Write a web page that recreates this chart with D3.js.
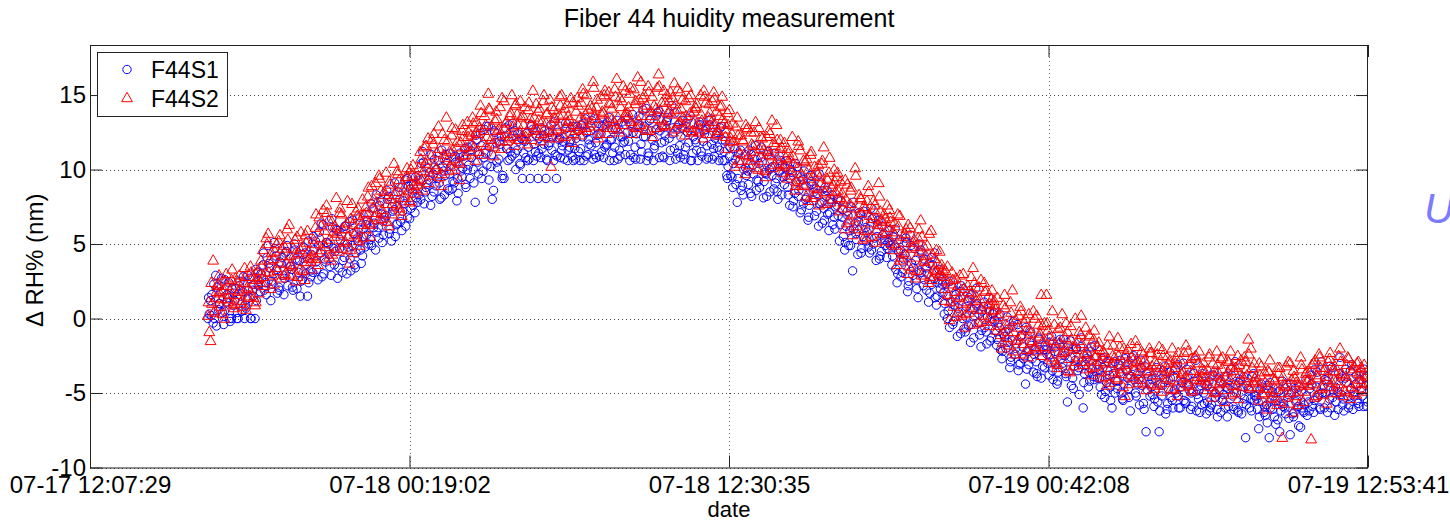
<!DOCTYPE html>
<html>
<head>
<meta charset="utf-8">
<script src="https://cdn.jsdelivr.net/npm/d3@7"></script>
<style>
  html, body { margin: 0; padding: 0; background: #fff; }
  svg { display: block; }
  text { font-family: "Liberation Sans", Arial, Helvetica, sans-serif; fill: #000; }
</style>
</head>
<body>
<svg id="chart" width="1450" height="522"></svg>
<script>
// ---------------- DATA ----------------
const title = "Fiber 44 huidity measurement";
const xLabel = "date";
const yLabel = "\u0394 RH% (nm)";
const seriesNames = ["F44S1", "F44S2"];
const xTickLabels = ["07-17 12:07:29", "07-18 00:19:02", "07-18 12:30:35", "07-19 00:42:08", "07-19 12:53:41"];
const yTickValues = [-10, -5, 0, 5, 10, 15];
// three interleaved reading passes, hours after 07-17 12:07:29; one sample every 0.1 h in each pass
const sampleStartHoursA = 4.5;
const sampleStartHoursB = 4.55;
const sampleStartHoursC = 4.525;
const sampleStepHours = 0.1;

const s1ValuesA = [
  0.0, 1.2, -0.3, 2.9, 0.6, 1.8, -0.4, 1.1, 2.4, 0.0, 1.7, 0.0, 2.2, 0.5, 0.0, 1.3, 2.7, 1.9, 0.0, 3.1,
  1.8, 3.6, 2.4, 4.9, 1.2, 3.0, 4.2, 2.1, 3.7, 1.6, 4.5, 2.8, 3.3, 5.0, 2.0, 3.9, 2.6, 4.4, 1.5, 3.2,
  3.1, 5.2, 2.6, 4.4, 6.3, 3.8, 5.0, 2.9, 4.7, 6.0, 3.4, 5.6, 4.1, 3.0, 6.5, 4.9, 3.6, 5.4, 6.8, 4.2,
  4.8, 6.6, 5.3, 7.4, 4.6, 6.1, 7.9, 5.6, 6.9, 8.2, 5.2, 7.3, 6.3, 8.8, 5.9, 7.7, 9.4, 6.7, 8.4, 7.1,
  7.8, 9.3, 11.2, 8.5, 10.1, 7.6, 9.7, 8.9, 10.6, 8.1, 9.9, 11.0, 8.6, 10.3, 9.1, 7.9, 10.8, 9.5, 11.4, 10.0,
  9.4, 11.6, 7.8, 10.5, 12.4, 9.9, 11.1, 12.9, 10.2, 8.6, 11.8, 10.7, 12.2, 9.4, 11.4, 13.0, 10.9, 12.6, 11.3, 10.4,
  9.4, 11.9, 10.6, 9.4, 12.7, 11.2, 9.4, 10.8, 12.3, 9.4, 11.6, 13.0, 10.6, 9.4, 12.0, 11.3, 10.7, 12.8, 11.5, 10.9,
  11.4, 12.9, 10.6, 12.2, 13.4, 11.0, 12.6, 10.7, 11.8, 13.1, 12.4, 10.8, 11.6, 13.5, 12.0, 10.6, 12.8, 11.3, 13.2, 11.9,
  12.5, 10.6, 13.7, 11.5, 12.9, 10.7, 14.0, 12.2, 11.1, 13.4, 10.6, 12.7, 13.9, 11.8, 10.8, 13.2, 12.1, 14.3, 11.4, 12.8,
  11.6, 13.3, 10.7, 12.5, 13.6, 11.1, 12.0, 10.6, 13.0, 11.9, 12.7, 10.8, 13.4, 11.4, 12.3, 10.6, 12.9, 11.2, 9.6, 10.9,
  9.5, 11.4, 7.8, 10.6, 8.9, 11.0, 9.9, 8.4, 10.3, 11.6, 9.2, 10.8, 8.1, 9.7, 11.2, 10.1, 8.7, 9.4, 10.9, 8.3,
  9.0, 10.6, 7.6, 9.8, 8.4, 10.2, 7.1, 9.3, 8.0, 6.6, 9.6, 7.9, 8.7, 6.2, 9.1, 7.4, 8.2, 5.9, 7.8, 6.8,
  7.6, 5.2, 6.8, 4.6, 7.2, 5.9, 3.2, 6.4, 4.3, 7.0, 5.5, 6.1, 4.8, 7.4, 5.0, 3.9, 6.6, 4.5, 5.7, 4.1,
  5.9, 3.6, 4.8, 2.4, 5.3, 3.1, 4.3, 1.8, 5.6, 2.9, 3.9, 1.4, 4.6, 2.2, 3.4, 1.1, 4.1, 2.7, 0.9, 3.3,
  2.6, 0.3, 1.5, -0.6, 2.1, 0.9, -1.2, 1.8, 0.0, -0.9, 1.2, -1.6, 0.6, 2.0, -0.3, -1.9, 0.8, -0.9, 1.4, -1.3,
  0.4, -1.8, -0.6, -2.7, -1.2, 0.1, -3.3, -1.5, -2.4, -0.4, -3.0, -1.9, -4.4, -2.2, -0.9, -3.6, -2.9, -1.3, -4.0, -2.1,
  -2.1, -3.8, -1.2, -2.9, -4.4, -1.7, -3.3, -2.5, -5.6, -1.5, -4.0, -2.8, -3.5, -1.9, -6.0, -3.1, -4.6, -2.2, -3.9, -2.6,
  -3.4, -5.1, -2.6, -4.3, -3.8, -6.0, -2.9, -4.7, -3.6, -5.4, -2.7, -4.0, -6.2, -3.2, -5.0, -4.4, -2.8, -5.7, -7.6, -3.9,
  -4.6, -5.9, -3.3, -7.6, -5.2, -4.1, -6.1, -3.6, -5.5, -4.8, -3.1, -6.0, -4.3, -5.7, -3.8, -6.1, -4.9, -2.8, -5.4, -4.5,
  -5.0, -6.4, -4.2, -5.8, -3.6, -6.1, -4.8, -5.5, -3.9, -6.6, -4.5, -5.2, -2.9, -6.2, -4.1, -5.7, -8.0, -4.7, -5.4, -3.7,
  -5.2, -7.4, -4.4, -6.3, -5.8, -8.0, -4.9, -6.6, -5.5, -7.6, -4.2, -6.0, -5.3, -7.8, -6.4, -4.7, -5.9, -7.3, -6.2, -4.1,
  -5.6, -3.8, -6.3, -4.6, -5.1, -2.9, -6.0, -4.2, -5.4, -3.3, -6.5, -4.9, -2.6, -5.8, -4.0, -5.2, -3.5, -6.1, -4.4, -5.7,
  -3.6, -5.9, -4.5
];

const s1ValuesB = [
  0.3, 1.6, 0.0, 2.1, 1.0, 0.4, 2.6, 1.4, -0.2, 0.9, 2.0, 0.0, 1.5, 2.8, 0.7, 1.9, 0.0, 2.3, 1.2, 2.5,
  2.7, 1.9, 4.1, 3.4, 2.3, 4.7, 1.7, 3.8, 2.9, 4.4, 2.2, 3.5, 1.9, 4.0, 3.1, 2.5, 4.8, 3.6, 2.4, 4.3,
  4.6, 3.3, 5.8, 2.8, 4.0, 5.1, 3.5, 6.1, 4.5, 2.7, 5.3, 3.9, 6.2, 4.8, 3.2, 5.7, 4.4, 6.0, 3.7, 5.5,
  5.6, 7.0, 4.9, 6.4, 5.8, 7.6, 5.1, 6.8, 8.0, 6.0, 7.2, 5.5, 8.5, 6.5, 7.9, 6.2, 8.9, 7.4, 9.0, 8.1,
  8.3, 10.4, 7.7, 9.0, 9.8, 8.2, 10.7, 9.4, 8.0, 10.2, 9.6, 8.7, 11.1, 9.2, 10.5, 8.4, 9.9, 10.9, 8.8, 10.3,
  10.8, 9.1, 12.0, 11.0, 9.4, 12.7, 10.3, 11.5, 8.0, 12.5, 10.1, 11.7, 9.6, 12.8, 10.6, 11.2, 12.3, 10.0, 11.9, 12.1,
  11.1, 12.4, 10.7, 12.9, 11.7, 10.9, 12.1, 11.4, 12.6, 10.6, 11.8, 12.2, 11.0, 12.5, 10.8, 11.9, 13.1, 11.3, 12.0, 10.6,
  12.1, 11.2, 13.0, 10.6, 12.5, 11.7, 13.3, 11.0, 12.3, 10.9, 12.9, 11.5, 13.2, 12.0, 11.1, 12.7, 10.7, 12.2, 11.8, 13.0,
  11.9, 13.1, 10.8, 12.4, 13.6, 11.2, 12.9, 10.6, 13.3, 12.0, 11.6, 13.8, 12.6, 10.9, 12.3, 13.5, 11.3, 12.8, 10.7, 13.0,
  12.2, 11.0, 13.1, 11.8, 10.6, 12.6, 11.3, 13.2, 10.9, 12.4, 11.6, 13.0, 10.7, 12.1, 11.5, 12.8, 10.6, 11.9, 10.2, 9.6,
  10.4, 9.0, 11.1, 8.6, 10.0, 9.6, 11.3, 8.2, 10.7, 9.3, 8.8, 10.5, 9.8, 11.0, 8.5, 10.2, 9.1, 8.0, 10.6, 9.5,
  9.6, 8.3, 10.0, 7.9, 9.2, 8.6, 7.3, 9.9, 8.1, 7.6, 9.0, 6.9, 8.4, 7.7, 6.4, 8.8, 7.0, 8.0, 6.3, 7.5,
  6.9, 7.9, 5.5, 6.2, 4.9, 7.5, 6.0, 5.3, 7.1, 4.7, 6.5, 5.8, 4.4, 6.7, 5.4, 6.3, 4.2, 5.6, 4.9, 5.1,
  4.9, 5.5, 3.3, 4.5, 2.8, 4.0, 5.1, 2.5, 3.7, 4.7, 2.0, 3.2, 4.4, 2.6, 3.0, 1.7, 3.6, 1.4, 2.4, 2.0,
  1.7, 2.3, 0.5, 1.1, -0.2, 1.6, 0.4, 2.2, -0.7, 0.8, 1.4, -0.4, 0.2, 1.0, -1.1, 0.5, -0.6, 0.1, -1.5, 0.3,
  -0.8, -0.3, -2.1, -1.0, -2.0, -0.7, -2.6, -0.2, -1.7, -3.1, -1.1, -2.5, -3.4, -1.6, -2.7, -2.1, -3.9, -2.1, -3.2, -1.8,
  -3.0, -2.4, -4.1, -1.9, -3.6, -2.7, -1.4, -3.9, -2.2, -4.5, -3.2, -2.0, -5.1, -2.9, -3.7, -2.4, -4.2, -3.4, -1.8, -4.0,
  -4.6, -3.3, -4.9, -2.9, -5.5, -3.7, -4.2, -3.1, -5.0, -4.4, -3.5, -5.3, -2.6, -4.1, -3.8, -5.8, -4.5, -3.2, -4.8, -5.2,
  -5.1, -4.0, -5.6, -4.4, -3.5, -6.4, -4.7, -5.3, -3.9, -5.0, -6.0, -4.3, -5.5, -3.4, -4.8, -5.9, -4.2, -5.1, -6.3, -3.7,
  -4.4, -5.6, -6.0, -4.9, -5.3, -4.0, -6.3, -5.1, -4.6, -5.9, -3.8, -6.1, -5.0, -4.3, -6.4, -5.4, -4.5, -6.0, -3.9, -5.2,
  -6.1, -4.8, -5.6, -6.5, -4.5, -6.0, -5.2, -7.1, -4.9, -6.2, -5.7, -4.4, -6.7, -5.0, -6.3, -5.5, -4.6, -6.0, -5.8, -6.5,
  -4.7, -5.9, -3.4, -5.3, -6.1, -4.5, -5.0, -3.9, -6.0, -4.8, -5.6, -3.7, -5.1, -6.2, -4.3, -5.8, -3.1, -4.9, -5.5, -4.1,
  -5.2, -4.0, -5.6
];

const s1ValuesC = [
  1.4, 0.2, 2.3, -0.5, 1.0, 2.7, 0.5, 1.6, 0.0, 2.0, 1.2, 0.4, 2.5, 1.8, 0.9, 2.9, 0.0, 1.5, 3.3, 2.2,
  3.0, 4.4, 1.6, 3.7, 2.5, 5.1, 3.3, 1.9, 4.1, 2.7, 4.9, 3.5, 2.1, 4.6, 3.9, 1.5, 4.3, 3.0, 5.2, 2.8,
  5.5, 3.8, 4.9, 6.4, 3.0, 5.1, 4.3, 6.7, 3.6, 5.9, 4.7, 3.1, 6.2, 5.0, 4.0, 6.6, 3.4, 5.2, 4.6, 6.0,
  6.3, 5.0, 7.7, 6.1, 8.3, 5.4, 7.0, 6.6, 8.6, 5.7, 7.5, 9.1, 6.4, 8.0, 7.2, 9.3, 6.8, 8.7, 7.6, 9.5,
  9.6, 8.0, 10.5, 8.8, 9.3, 11.0, 8.5, 10.0, 9.1, 11.3, 8.3, 10.4, 9.7, 8.7, 10.9, 9.4, 11.1, 10.1, 9.0, 11.5,
  11.3, 10.0, 12.3, 9.7, 11.6, 10.8, 12.9, 9.3, 11.0, 12.6, 10.5, 11.9, 9.4, 12.2, 11.4, 10.7, 13.1, 11.1, 12.4, 10.3,
  12.0, 10.8, 11.5, 13.0, 10.6, 12.3, 11.1, 12.8, 11.7, 10.7, 12.5, 11.3, 13.2, 10.9, 12.1, 11.6, 12.7, 10.6, 11.9, 12.9,
  10.7, 12.6, 11.4, 13.1, 10.9, 12.0, 11.6, 13.4, 10.8, 12.4, 11.2, 13.0, 11.7, 10.6, 12.7, 11.5, 13.3, 10.9, 12.2, 11.0,
  13.4, 11.0, 12.5, 10.7, 13.0, 11.7, 12.2, 14.1, 10.9, 12.6, 11.4, 13.6, 10.8, 12.9, 11.9, 13.3, 10.6, 12.4, 13.8, 11.1,
  10.8, 12.8, 11.5, 13.4, 10.6, 12.2, 11.8, 13.0, 11.2, 12.6, 10.7, 13.3, 11.7, 10.9, 12.5, 11.3, 12.0, 10.6, 9.4, 11.5,
  8.8, 10.7, 9.4, 11.3, 8.3, 10.1, 9.0, 11.0, 9.7, 8.6, 10.4, 11.5, 9.2, 8.2, 10.0, 9.6, 11.1, 8.5, 9.9, 10.3,
  10.1, 8.8, 9.4, 7.5, 10.4, 8.2, 9.5, 7.7, 8.9, 6.8, 9.2, 8.5, 7.2, 9.7, 7.8, 6.6, 8.6, 7.1, 8.3, 6.0,
  8.0, 6.3, 7.3, 5.1, 6.9, 4.9, 7.8, 5.7, 6.5, 4.4, 7.2, 5.2, 6.0, 4.6, 6.8, 5.5, 4.0, 6.2, 5.3, 4.7,
  5.2, 4.2, 6.0, 3.0, 4.6, 3.8, 5.4, 2.2, 4.9, 3.4, 2.6, 5.0, 3.1, 4.0, 1.9, 3.7, 2.3, 4.4, 1.5, 2.9,
  2.3, 1.0, 0.0, 2.5, -0.4, 1.3, 0.7, -1.0, 2.0, 0.1, -0.5, 1.6, -1.3, 0.9, 0.3, -0.8, 1.1, -1.7, 0.5, -0.2,
  -0.1, -1.4, 0.3, -2.2, -0.9, -1.6, -2.9, -0.5, -2.0, -3.5, -1.2, -2.7, -0.6, -3.1, -1.8, -2.4, -3.7, -1.4, -2.6, -3.3,
  -2.4, -1.6, -3.5, -2.2, -4.2, -1.4, -3.0, -3.7, -1.8, -2.6, -4.7, -2.0, -3.3, -1.3, -4.3, -2.7, -3.6, -1.9, -4.1, -3.1,
  -4.0, -2.7, -5.3, -3.5, -4.6, -3.0, -5.0, -4.2, -2.8, -5.5, -3.4, -4.7, -3.9, -2.5, -5.2, -4.1, -3.3, -6.1, -3.7, -4.4,
  -4.1, -5.4, -3.6, -6.2, -4.5, -3.2, -5.7, -4.0, -6.0, -3.4, -5.2, -4.6, -3.0, -5.6, -4.4, -5.0, -3.7, -6.2, -4.8, -5.8,
  -5.7, -4.5, -6.2, -3.8, -5.0, -6.6, -4.2, -5.4, -6.0, -4.7, -3.4, -5.9, -4.4, -6.3, -5.1, -3.9, -5.8, -4.8, -6.2, -5.5,
  -5.4, -6.6, -4.6, -5.9, -7.0, -4.3, -6.1, -5.5, -6.8, -4.8, -5.9, -6.4, -5.1, -4.4, -6.6, -5.6, -7.2, -4.9, -6.3, -5.2,
  -6.2, -4.4, -5.5, -3.6, -6.0, -5.0, -4.1, -6.3, -3.2, -5.3, -4.6, -6.1, -4.0, -5.4, -3.4, -6.0, -4.7, -5.2, -3.8, -5.9,
  -4.8, -3.4, -5.9
];

const s2ValuesA = [
  0.2, -1.5, 3.9, 1.4, 2.3, 0.8, 1.9, 3.0, 1.1, 2.6, 0.7, 1.6, 2.9, 1.2, 3.4, 2.1, 1.5, 2.8, 0.9, 3.2,
  2.4, 4.6, 3.1, 5.7, 2.0, 4.0, 3.4, 5.2, 2.7, 4.9, 3.7, 6.3, 2.9, 4.3, 5.5, 3.3, 4.8, 2.6, 5.9, 4.1,
  4.2, 6.1, 3.6, 5.4, 7.3, 4.8, 6.6, 3.9, 5.8, 8.1, 4.5, 7.0, 5.1, 6.4, 3.7, 7.7, 5.6, 6.9, 4.9, 8.0,
  6.0, 8.2, 5.5, 7.4, 9.1, 6.6, 8.6, 7.0, 9.8, 6.2, 8.0, 10.4, 7.6, 9.3, 6.9, 8.8, 10.1, 7.9, 9.6, 8.4,
  9.0, 11.2, 8.6, 10.4, 12.1, 9.6, 11.7, 10.0, 12.9, 8.9, 11.0, 13.5, 9.9, 12.3, 10.7, 11.5, 9.3, 12.6, 10.9, 13.2,
  11.2, 13.5, 10.6, 12.4, 14.3, 11.8, 13.0, 15.1, 12.0, 10.9, 13.9, 12.7, 11.4, 14.6, 13.2, 12.1, 15.0, 11.6, 13.7, 12.5,
  12.3, 14.2, 11.7, 13.4, 15.3, 12.8, 13.9, 11.9, 14.6, 13.1, 12.5, 10.2, 14.0, 12.9, 13.6, 15.0, 12.2, 14.4, 13.3, 11.8,
  13.0, 14.8, 12.3, 15.4, 13.7, 12.6, 14.3, 15.9, 13.4, 12.1, 14.9, 13.8, 12.8, 15.2, 14.1, 13.2, 16.1, 12.5, 14.6, 13.6,
  13.5, 15.1, 12.4, 14.4, 16.2, 13.0, 14.8, 12.7, 15.6, 13.9, 12.2, 14.1, 16.4, 13.3, 15.3, 12.9, 14.6, 13.7, 15.8, 14.0,
  13.2, 14.7, 12.3, 15.5, 13.8, 12.6, 14.2, 13.0, 15.0, 12.1, 14.5, 13.5, 12.8, 15.2, 13.9, 12.4, 14.3, 13.1, 11.4, 14.0,
  12.4, 10.2, 13.5, 11.1, 12.0, 9.7, 12.8, 10.6, 11.6, 13.2, 10.0, 12.2, 11.3, 9.5, 12.6, 10.9, 11.8, 13.0, 10.4, 11.5,
  11.8, 9.4, 10.7, 12.2, 8.6, 10.1, 11.3, 9.0, 10.5, 7.9, 11.0, 9.6, 8.3, 10.3, 9.1, 11.5, 7.7, 9.8, 8.8, 10.0,
  9.5, 7.2, 8.4, 6.0, 9.0, 7.7, 5.6, 10.1, 6.8, 8.1, 5.3, 7.4, 8.9, 6.4, 7.9, 5.1, 9.1, 6.6, 7.0, 5.8,
  7.3, 5.0, 6.4, 3.6, 6.9, 4.4, 5.7, 3.0, 6.1, 4.8, 2.7, 5.4, 6.6, 3.9, 4.2, 2.4, 5.9, 3.3, 4.6, 2.9,
  3.6, 1.2, 2.5, -0.1, 3.1, 1.8, 0.4, 2.9, 1.0, -0.6, 2.2, 0.7, 3.4, 1.5, -0.3, 2.6, 0.2, 1.9, -0.5, 1.3,
  1.2, -0.8, 0.3, -2.0, 1.6, -1.3, -0.2, 1.9, -2.4, -0.6, 0.8, -1.7, 0.0, -2.6, -1.0, 0.5, -1.9, -0.4, 1.6, -1.4,
  1.6, -1.2, -2.8, -0.4, -3.3, -1.6, 0.3, -2.2, -0.9, -3.6, -1.9, 0.0, -2.6, -1.1, -3.1, -0.6, -2.0, -3.8, -1.4, -2.5,
  -1.6, -3.6, -2.3, -4.5, -1.2, -3.0, -2.6, -4.1, -1.9, -3.4, -5.2, -2.1, -3.8, -2.8, -1.5, -4.3, -3.2, -2.4, -4.8, -3.5,
  -2.3, -4.4, -3.1, -1.9, -4.9, -3.6, -2.6, -4.1, -2.0, -3.3, -5.2, -2.8, -4.6, -3.9, -2.2, -3.5, -4.8, -2.5, -3.0, -4.2,
  -3.0, -4.8, -2.6, -5.3, -3.8, -2.2, -4.4, -3.4, -5.6, -2.8, -4.1, -3.2, -5.0, -2.5, -3.7, -4.6, -2.9, -1.4, -2.0, -4.3,
  -3.9, -5.5, -3.2, -4.7, -6.1, -3.6, -5.0, -4.2, -5.8, -3.3, -8.0, -4.5, -5.3, -3.0, -6.3, -4.0, -4.9, -2.6, -5.6, -3.7,
  -4.1, -8.1, -3.0, -5.2, -2.4, -4.6, -3.5, -5.7, -2.7, -4.3, -3.2, -5.0, -2.0, -3.8, -4.9, -2.6, -5.4, -3.4, -4.4, -2.9,
  -3.3, -4.7, -3.9
];

const s2ValuesB = [
  -0.9, 1.0, 0.5, 2.2, 1.7, 0.3, 2.5, 1.3, 1.9, 0.9, 2.7, 1.8, 1.0, 2.4, 0.6, 2.0, 3.1, 1.4, 2.6, 1.7,
  3.5, 2.2, 5.0, 3.9, 2.9, 4.5, 3.2, 5.6, 4.2, 3.0, 5.3, 3.6, 4.7, 2.5, 4.4, 5.8, 3.8, 5.1, 4.0, 3.3,
  5.0, 4.0, 6.8, 4.6, 5.9, 7.1, 5.3, 4.3, 6.2, 5.7, 7.4, 4.7, 6.0, 5.5, 6.7, 4.4, 7.2, 5.2, 6.3, 7.0,
  7.1, 6.4, 8.9, 6.8, 7.8, 9.4, 7.3, 8.3, 6.5, 9.0, 7.7, 8.5, 9.7, 7.2, 8.1, 9.5, 8.6, 10.0, 8.9, 9.2,
  10.1, 9.3, 11.5, 10.6, 9.8, 12.0, 10.3, 11.1, 9.5, 12.4, 10.8, 11.9, 10.2, 11.3, 12.7, 10.5, 11.8, 12.2, 11.0, 12.5,
  12.3, 11.5, 13.2, 12.8, 11.0, 13.6, 12.2, 14.0, 11.7, 13.3, 12.6, 14.2, 11.9, 13.1, 12.4, 13.8, 12.9, 14.4, 12.0, 13.5,
  13.0, 12.5, 14.5, 12.0, 13.5, 12.7, 14.1, 13.2, 12.2, 13.8, 14.7, 12.6, 13.4, 12.1, 14.3, 13.7, 12.9, 13.6, 14.8, 12.4,
  13.9, 12.7, 14.5, 13.3, 15.0, 12.9, 14.1, 13.6, 14.7, 12.4, 13.9, 15.3, 13.1, 14.4, 12.8, 14.9, 13.5, 14.2, 15.6, 13.8,
  14.2, 13.2, 15.4, 12.8, 14.7, 13.6, 15.0, 14.3, 12.6, 14.9, 13.4, 15.5, 14.0, 12.9, 14.5, 13.8, 15.2, 12.5, 14.4, 13.1,
  14.1, 12.9, 13.6, 14.8, 12.5, 13.9, 14.4, 12.7, 13.3, 14.9, 12.4, 13.8, 14.6, 13.0, 12.6, 14.2, 13.4, 12.2, 13.0, 12.1,
  11.9, 12.9, 10.6, 12.3, 11.0, 12.7, 10.3, 11.7, 12.5, 10.8, 11.4, 12.1, 9.9, 11.2, 12.4, 10.1, 11.6, 10.7, 12.0, 10.2,
  10.8, 11.1, 9.9, 10.4, 9.2, 11.6, 9.7, 8.9, 10.7, 9.4, 8.1, 10.2, 8.7, 9.5, 10.6, 8.4, 9.3, 7.8, 9.0, 8.5,
  8.6, 9.2, 7.8, 8.0, 6.6, 8.8, 7.4, 6.2, 8.3, 7.1, 5.9, 7.9, 6.9, 5.5, 7.6, 6.3, 7.2, 5.7, 6.7, 6.1,
  6.5, 5.8, 4.9, 6.2, 4.1, 5.1, 6.0, 3.5, 4.7, 5.3, 3.2, 4.5, 5.5, 3.8, 4.9, 2.8, 4.3, 3.1, 3.7, 3.0,
  2.8, 3.2, 1.6, 2.3, 0.8, 2.7, 1.4, 0.2, 2.0, 1.1, 0.4, 1.7, 2.4, 0.6, 1.3, -0.2, 1.8, 0.9, 0.0, 0.5,
  0.6, 0.1, -1.1, 0.9, -0.4, -1.8, 0.4, -0.9, -1.5, 0.2, -1.2, -0.3, -2.1, -0.7, -1.6, 0.0, -2.2, -1.0, -0.5, -1.9,
  -0.8, -2.0, -1.5, -3.0, -0.7, -2.4, -1.8, -0.3, -2.7, -1.4, -3.2, -2.1, -0.9, -1.7, -2.9, -2.3, -1.2, -3.3, -2.6, -1.9,
  -2.9, -2.2, -3.9, -2.7, -3.3, -1.8, -4.0, -2.5, -3.7, -2.0, -3.1, -4.4, -2.6, -3.5, -1.9, -3.0, -4.1, -2.8, -3.6, -2.3,
  -3.8, -2.9, -4.5, -3.3, -2.5, -4.0, -3.0, -4.7, -3.5, -2.7, -4.2, -3.7, -2.3, -4.4, -3.1, -4.9, -2.6, -3.9, -4.1, -3.4,
  -4.0, -3.4, -4.6, -3.0, -4.9, -3.6, -2.7, -4.3, -3.9, -2.9, -5.1, -3.5, -4.5, -3.1, -4.2, -2.6, -3.8, -4.7, -3.3, -4.0,
  -4.6, -3.8, -5.1, -4.3, -3.5, -5.4, -4.0, -4.8, -3.7, -5.0, -4.4, -3.2, -5.7, -4.1, -3.9, -5.2, -4.5, -3.4, -4.9, -4.2,
  -3.6, -4.4, -2.8, -4.0, -3.3, -5.1, -3.9, -2.9, -4.6, -3.5, -4.2, -2.5, -3.7, -4.8, -3.1, -4.3, -3.6, -5.0, -3.0, -4.1,
  -3.8, -4.4, -3.5
];

const s2ValuesC = [
  1.1, 2.4, 0.4, 1.8, 2.9, 1.3, 0.0, 2.2, 1.6, 3.3, 1.0, 2.5, 1.9, 0.8, 2.8, 1.4, 3.5, 2.3, 1.1, 2.7,
  3.9, 2.8, 5.4, 3.1, 4.4, 2.3, 5.0, 3.7, 4.7, 2.9, 6.0, 4.2, 3.5, 5.3, 2.8, 4.6, 3.2, 5.6, 4.5, 3.8,
  5.3, 7.0, 4.4, 6.2, 5.0, 7.6, 4.1, 6.5, 5.5, 4.7, 7.1, 6.0, 5.2, 7.9, 4.6, 6.3, 5.8, 7.4, 6.6, 5.4,
  7.5, 8.8, 6.3, 8.0, 7.1, 9.6, 6.7, 8.5, 7.7, 9.2, 7.0, 8.3, 9.9, 7.4, 9.0, 8.1, 9.5, 7.8, 10.3, 8.7,
  9.4, 10.7, 9.9, 11.6, 9.1, 10.9, 12.4, 10.1, 11.4, 9.7, 12.0, 10.6, 11.2, 12.8, 10.0, 11.9, 10.4, 13.0, 11.5, 12.2,
  11.7, 13.1, 12.5, 11.2, 13.8, 12.6, 11.6, 14.1, 12.9, 11.5, 13.4, 12.3, 14.8, 12.7, 11.9, 13.6, 12.2, 14.3, 13.0, 14.6,
  13.6, 12.2, 14.0, 13.0, 12.6, 14.4, 13.3, 12.4, 15.0, 13.7, 12.1, 14.2, 13.5, 12.7, 14.9, 12.3, 14.1, 13.2, 12.8, 14.5,
  12.6, 14.3, 13.5, 15.1, 12.8, 14.0, 13.1, 15.5, 14.2, 12.9, 13.7, 15.0, 12.4, 14.5, 13.4, 15.4, 12.7, 14.8, 13.0, 15.3,
  13.8, 15.5, 12.9, 14.6, 13.3, 15.9, 14.1, 12.6, 15.2, 13.6, 14.3, 12.8, 15.6, 14.5, 13.0, 15.0, 13.9, 14.8, 12.7, 15.4,
  15.2, 13.5, 14.6, 12.8, 15.0, 13.1, 14.1, 12.5, 13.7, 15.3, 12.9, 14.4, 13.2, 14.8, 12.3, 13.6, 14.9, 12.7, 13.8, 11.9,
  13.1, 11.5, 12.3, 10.4, 11.9, 13.0, 10.9, 12.5, 11.2, 10.1, 12.8, 11.6, 10.6, 12.2, 11.0, 13.3, 10.3, 12.0, 11.4, 9.8,
  10.3, 11.4, 9.6, 10.9, 8.9, 11.9, 9.3, 10.6, 8.2, 10.0, 11.2, 8.8, 9.8, 7.6, 10.4, 8.5, 9.4, 10.8, 8.0, 9.2,
  9.8, 8.1, 7.4, 9.3, 6.4, 8.6, 7.0, 9.6, 6.0, 8.0, 7.5, 5.4, 8.5, 6.7, 7.3, 5.9, 8.2, 6.5, 5.2, 7.6,
  6.8, 4.6, 5.6, 7.0, 3.9, 5.5, 4.3, 6.3, 3.3, 5.1, 4.1, 6.0, 2.9, 4.8, 3.5, 5.7, 2.6, 4.0, 3.2, 4.5,
  3.3, 2.0, 3.5, 1.1, 2.6, 0.1, 2.2, 1.5, 3.0, 0.3, 1.8, 2.8, -0.4, 1.2, 2.1, 0.6, 2.4, -0.2, 1.0, 1.9,
  0.9, 1.4, -0.5, -1.6, 0.7, -0.9, 1.1, -2.2, -0.1, -1.4, 0.5, -2.4, -0.8, 0.3, -1.5, -2.0, 0.2, -1.2, -2.5, -0.3,
  -0.3, -2.6, 0.5, -1.8, -3.1, -0.6, -2.3, -1.3, -3.5, -0.5, -2.0, -2.9, -1.5, 0.2, -2.4, -3.4, -1.1, -2.8, -0.8, -3.2,
  -2.1, -4.0, -3.0, -1.8, -4.3, -2.5, -3.6, -1.3, -3.2, -4.6, -2.4, -3.0, -1.7, -4.0, -2.9, -3.7, -2.2, -4.4, -3.1, -2.0,
  -3.2, -4.7, -2.4, -3.8, -2.1, -4.3, -3.4, -2.8, -4.8, -3.0, -2.3, -4.0, -3.6, -1.8, -4.5, -2.7, -3.5, -4.1, -2.2, -3.9,
  -3.5, -4.4, -2.4, -3.9, -5.0, -3.1, -4.2, -2.6, -4.8, -3.6, -2.2, -4.5, -3.3, -5.4, -2.8, -4.0, -3.4, -2.4, -4.6, -3.0,
  -4.2, -3.0, -5.0, -3.6, -4.7, -2.8, -5.3, -4.1, -3.3, -5.6, -3.9, -4.6, -2.9, -5.0, -3.5, -4.3, -5.8, -3.1, -4.4, -3.6,
  -4.5, -3.1, -5.3, -3.8, -2.6, -4.7, -3.3, -4.1, -2.3, -5.0, -3.6, -4.4, -2.9, -5.2, -3.9, -2.7, -4.6, -3.2, -5.1, -3.7,
  -4.3, -3.1, -4.9
];

// ---------------- CHART ----------------
const fmt = d3.timeFormat("%m-%d %H:%M:%S");
const parseTick = d3.timeParse("%Y-%m-%d %H:%M:%S");
const xTickDates = xTickLabels.map(s => parseTick("2014-" + s));
const t0 = xTickDates[0];
const hourMs = 3600 * 1000;
const toDate = (start, i) => new Date(t0.getTime() + (start + i * sampleStepHours) * hourMs);
const build = (vals, start) => vals.map((v, i) => ({ t: toDate(start, i), v }));

const s1 = [].concat(
  build(s1ValuesA, sampleStartHoursA),
  build(s1ValuesC, sampleStartHoursC),
  build(s1ValuesB, sampleStartHoursB)
).sort((a, b) => a.t - b.t);
const s2 = [].concat(
  build(s2ValuesA, sampleStartHoursA),
  build(s2ValuesC, sampleStartHoursC),
  build(s2ValuesB, sampleStartHoursB)
).sort((a, b) => a.t - b.t);

const L = 90, R = 1368, T = 45, B = 467.5;
const svg = d3.select("#chart");
svg.append("rect").attr("width", 1450).attr("height", 522).attr("fill", "#fff");

const x = d3.scaleTime().domain([xTickDates[0], xTickDates[xTickDates.length - 1]]).range([L, R]);
const y = d3.scaleLinear().domain([-10, 18.36]).range([B, T]);

// grid
const grid = svg.append("g");
grid.selectAll("line.gx").data(xTickDates.slice(1, -1)).enter().append("line")
  .attr("x1", d => Math.round(x(d)) + 0.5).attr("x2", d => Math.round(x(d)) + 0.5)
  .attr("y1", T).attr("y2", B)
  .attr("stroke", "#666").attr("stroke-width", 1).attr("stroke-dasharray", "1,3");
grid.selectAll("line.gy").data(yTickValues).enter().append("line")
  .attr("x1", L).attr("x2", R)
  .attr("y1", d => Math.round(y(d)) + 0.5).attr("y2", d => Math.round(y(d)) + 0.5)
  .attr("stroke", "#444").attr("stroke-width", 1).attr("stroke-dasharray", "1,3");

// clip
svg.append("clipPath").attr("id", "clip").append("rect")
  .attr("x", L).attr("y", T).attr("width", R - L).attr("height", B - T);

const marks = svg.append("g").attr("clip-path", "url(#clip)");
marks.selectAll("circle").data(s1).enter().append("circle")
  .attr("cx", d => x(d.t)).attr("cy", d => y(d.v)).attr("r", 4.2)
  .attr("fill", "none").attr("stroke", "#0000ff").attr("stroke-width", 1);

const tri = "M0,-5.7L5.4,3.7L-5.4,3.7Z";
marks.selectAll("path.tri").data(s2).enter().append("path")
  .attr("class", "tri")
  .attr("d", tri)
  .attr("transform", d => `translate(${x(d.t)},${y(d.v)})`)
  .attr("fill", "none").attr("stroke", "#ff0000").attr("stroke-width", 1);

// axes box
svg.append("rect").attr("x", L + 0.5).attr("y", T + 0.5).attr("width", R - L - 1).attr("height", B - T)
  .attr("fill", "none").attr("stroke", "#222").attr("stroke-width", 1);

// ticks (inside), on all four sides
const tickLen = 12;
const axBottom = d3.axisBottom(x).tickValues(xTickDates).tickFormat(fmt).tickSizeInner(-tickLen).tickSizeOuter(0).tickPadding(8);
const gxb = svg.append("g").attr("transform", `translate(0,${B})`).call(axBottom);
gxb.select(".domain").remove();
gxb.selectAll("line").attr("stroke", "#222");
gxb.selectAll("text").style("font-size", "24px").attr("fill", "#000");

const axTop = d3.axisTop(x).tickValues(xTickDates).tickFormat("").tickSizeInner(-tickLen).tickSizeOuter(0);
const gxt = svg.append("g").attr("transform", `translate(0,${T})`).call(axTop);
gxt.select(".domain").remove();
gxt.selectAll("line").attr("stroke", "#222");

const axLeft = d3.axisLeft(y).tickValues(yTickValues).tickFormat(d => String(d)).tickSizeInner(-tickLen).tickSizeOuter(0).tickPadding(4);
const gyl = svg.append("g").attr("transform", `translate(${L},0)`).call(axLeft);
gyl.select(".domain").remove();
gyl.selectAll("line").attr("stroke", "#222");
gyl.selectAll("text").style("font-size", "24px").attr("fill", "#000").attr("x", -4);

const axRight = d3.axisRight(y).tickValues(yTickValues).tickFormat("").tickSizeInner(-tickLen).tickSizeOuter(0);
const gyr = svg.append("g").attr("transform", `translate(${R},0)`).call(axRight);
gyr.select(".domain").remove();
gyr.selectAll("line").attr("stroke", "#222");

// titles
svg.append("text").attr("x", (L + R) / 2).attr("y", 27).attr("text-anchor", "middle")
  .style("font-size", "25px").text(title);
svg.append("text").attr("x", (L + R) / 2).attr("y", 516.5).attr("text-anchor", "middle")
  .style("font-size", "22px").text(xLabel);
svg.append("text").attr("transform", `translate(43,${(T + B) / 2 + 4}) rotate(-90)`)
  .attr("text-anchor", "middle").style("font-size", "24px").text(yLabel);

// legend
const lg = svg.append("g");
lg.append("rect").attr("x", 97.5).attr("y", 52.5).attr("width", 130).attr("height", 64)
  .attr("fill", "#fff").attr("stroke", "#222").attr("stroke-width", 1);
lg.append("circle").attr("cx", 127).attr("cy", 69.5).attr("r", 4.2)
  .attr("fill", "none").attr("stroke", "#0000ff");
lg.append("path").attr("d", tri).attr("transform", "translate(127,98)")
  .attr("fill", "none").attr("stroke", "#ff0000");
lg.append("text").attr("x", 151).attr("y", 78).style("font-size", "23px").text(seriesNames[0]);
lg.append("text").attr("x", 151).attr("y", 107).style("font-size", "23px").text(seriesNames[1]);

// stray glyph at right edge (cut off in the reference too)
svg.append("text").attr("x", 1424).attr("y", 223)
  .style("font-size", "42px").style("font-style", "italic")
  .style("fill", "#7b7bff").text("U");
</script>
</body>
</html>
